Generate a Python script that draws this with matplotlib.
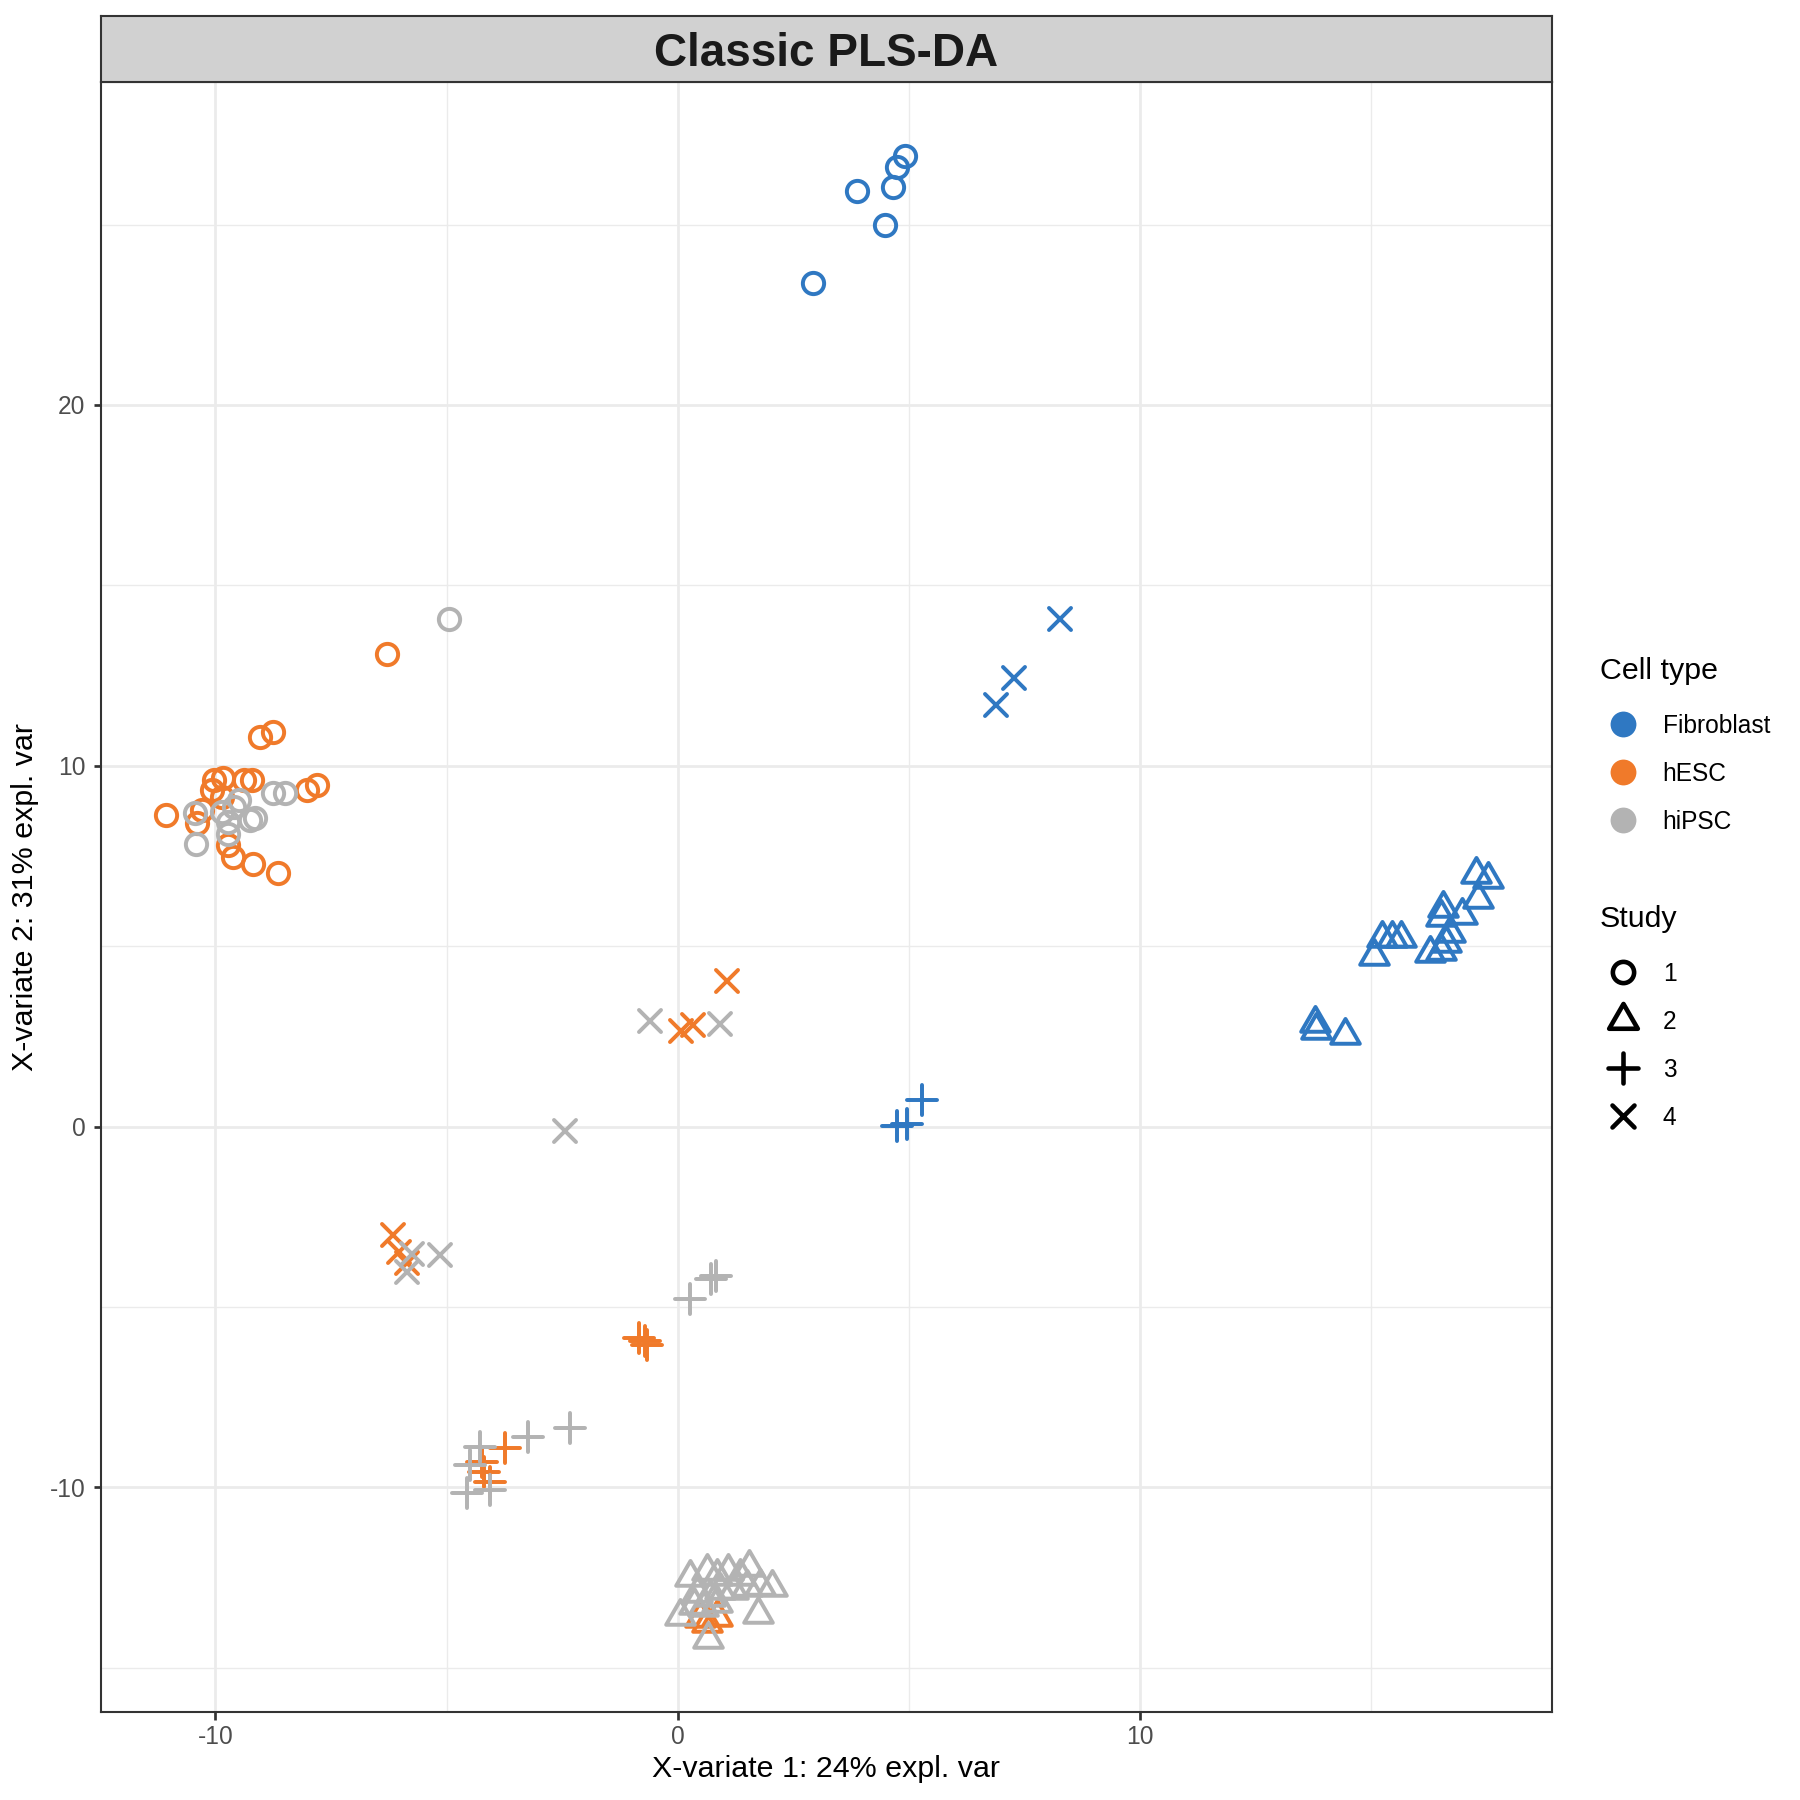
import matplotlib
matplotlib.use("Agg")
import matplotlib.pyplot as plt
from matplotlib.lines import Line2D
from matplotlib.path import Path
from matplotlib.markers import MarkerStyle

plt.rcParams['font.family'] = ['Liberation Sans', 'DejaVu Sans']

# ---------------- data ----------------
cell_types = ["Fibroblast", "hESC", "hiPSC"]
studies = ["1", "2", "3", "4"]
cell_colors = ["#2F78C2", "#F07A2A", "#B3B3B3"]

# Fibroblast
fib_s1_x = [2.93, 3.88, 4.65, 4.75, 4.92, 4.47]
fib_s1_y = [23.38, 25.92, 26.05, 26.59, 26.91, 25.00]
fib_s2_x = [17.26, 17.51, 17.31, 16.55, 16.96, 16.51, 16.70, 15.22, 15.45,
            15.63, 15.05, 16.26, 16.51, 16.62, 13.77, 13.81, 14.42]
fib_s2_y = [6.99, 6.87, 6.32, 6.07, 5.86, 5.81, 5.35, 5.23, 5.23,
            5.23, 4.74, 4.80, 4.86, 5.10, 2.86, 2.67, 2.55]
fib_s3_x = [4.75, 4.95, 5.27]
fib_s3_y = [0.02, 0.08, 0.73]
fib_s4_x = [6.88, 7.28, 8.27]
fib_s4_y = [11.69, 12.42, 14.08]

# hESC
hesc_s1_x = [-6.29, -9.03, -8.75, -10.04, -9.83, -10.08, -9.39, -9.21, -8.02,
             -7.80, -11.07, -10.40, -9.72, -9.61, -9.18, -8.64, -9.86, -10.29]
hesc_s1_y = [13.09, 10.79, 10.94, 9.60, 9.65, 9.32, 9.60, 9.60, 9.32,
             9.46, 8.63, 8.40, 7.80, 7.48, 7.29, 7.02, 9.14, 8.77]
hesc_s2_x = [0.48, 0.84, 0.63]
hesc_s2_y = [-13.63, -13.59, -13.77]
hesc_s3_x = [-3.73, -4.24, -4.20, -4.06, -0.85, -0.72, -0.66]
hesc_s3_y = [-8.92, -9.29, -9.57, -9.84, -5.85, -5.95, -6.05]
hesc_s4_x = [-6.15, -6.04, -5.86, 1.07, 0.07, 0.32]
hesc_s4_y = [-3.01, -3.47, -3.79, 4.04, 2.64, 2.80]

# hiPSC
hipsc_s1_x = [-4.94, -10.44, -10.42, -9.86, -9.50, -8.75, -8.49, -9.14, -9.25,
              -9.72, -9.60, -9.72]
hipsc_s1_y = [14.08, 8.68, 7.83, 8.73, 9.05, 9.24, 9.24, 8.54, 8.49,
              8.12, 8.85, 8.44]
hipsc_s2_x = [0.27, 0.63, 0.85, 1.09, 1.35, 1.53, 1.78, 2.03, 1.74, 0.05,
              0.66, 0.41, 0.70, 0.92, 0.55, 0.84, 0.34, 1.20, 1.49]
hipsc_s2_y = [-12.50, -12.31, -12.45, -12.31, -12.45, -12.22, -12.73, -12.77,
              -13.51, -13.56, -14.21, -12.94, -13.03, -12.84, -13.31, -13.21,
              -13.26, -12.84, -12.75]
hipsc_s3_x = [-4.28, -3.23, -2.33, -4.49, -4.56, -4.06, 0.27, 0.72, 0.82]
hipsc_s3_y = [-8.87, -8.60, -8.37, -9.38, -10.17, -10.08, -4.78, -4.24, -4.14]
hipsc_s4_x = [-5.75, -5.86, -5.14, -0.60, 0.92, -2.43]
hipsc_s4_y = [-3.52, -4.02, -3.56, 2.93, 2.83, -0.13]

title = "Classic PLS-DA"
x_label = "X-variate 1: 24% expl. var"
y_label = "X-variate 2: 31% expl. var"
x_major = [-10, 0, 10]
y_major = [-10, 0, 10, 20]
x_minor = [-5, 5, 15]
y_minor = [-15, -5, 5, 15, 25]

groups = [
    [(fib_s1_x, fib_s1_y), (fib_s2_x, fib_s2_y), (fib_s3_x, fib_s3_y), (fib_s4_x, fib_s4_y)],
    [(hesc_s1_x, hesc_s1_y), (hesc_s2_x, hesc_s2_y), (hesc_s3_x, hesc_s3_y), (hesc_s4_x, hesc_s4_y)],
    [(hipsc_s1_x, hipsc_s1_y), (hipsc_s2_x, hipsc_s2_y), (hipsc_s3_x, hipsc_s3_y), (hipsc_s4_x, hipsc_s4_y)],
]

# ---------------- markers (R pch 1,2,3,4 geometry) ----------------
CIRC = 5.1  # pt, circle diameter
tri_path = Path([(0, 1), (-0.866, -0.5), (0.866, -0.5), (0, 1)],
                [Path.MOVETO, Path.LINETO, Path.LINETO, Path.CLOSEPOLY])
marker_defs = [
    (MarkerStyle('o', joinstyle='round', capstyle='round'), CIRC),
    (MarkerStyle(tri_path, joinstyle='round', capstyle='round'), CIRC * 1.555),
    (MarkerStyle('+', joinstyle='round', capstyle='round'), CIRC * 1.414),
    (MarkerStyle('x', joinstyle='round', capstyle='round'), CIRC),
]

# ---------------- figure ----------------
W = H = 1800.0
fig = plt.figure(figsize=(6, 6), dpi=300)
pl, pr, pt_, pb = 100.7, 1552.3, 81.7, 1711.7
ax = fig.add_axes([pl / W, 1 - pb / H, (pr - pl) / W, (pb - pt_) / H])

ax.set_xlim(-12.48, 18.91)
ax.set_ylim(-16.22, 28.96)

for xv in x_minor:
    ax.axvline(xv, color="#EBEBEB", lw=0.33, zorder=0)
for yv in y_minor:
    ax.axhline(yv, color="#EBEBEB", lw=0.33, zorder=0)
for xv in x_major:
    ax.axvline(xv, color="#EBEBEB", lw=0.65, zorder=0)
for yv in y_major:
    ax.axhline(yv, color="#EBEBEB", lw=0.65, zorder=0)

for ci, color in enumerate(cell_colors):
    for si in range(4):
        xs, ys = groups[ci][si]
        mk, ms = marker_defs[si]
        ax.plot(xs, ys, linestyle='none', marker=mk, markersize=ms,
                markerfacecolor='none', markeredgecolor=color,
                markeredgewidth=0.95, zorder=3)

ax.set_xticks(x_major)
ax.set_yticks(y_major)
ax.set_xticklabels([str(v) for v in x_major])
ax.set_yticklabels([str(v) for v in y_major])
ax.tick_params(axis='both', length=1.8, width=0.65, color="#333333",
               labelsize=5.9, labelcolor="#4D4D4D")
ax.tick_params(axis='x', pad=1.3)
ax.tick_params(axis='y', pad=1.9)
for sp in ax.spines.values():
    sp.set_color("#333333")
    sp.set_linewidth(0.5)

ax.set_xlabel(x_label, fontsize=7.3, color="black")
ax.xaxis.label.set_va('baseline')
ax.xaxis.set_label_coords(0.5, -(1776.7 - pb) / (pb - pt_))
ax.set_ylabel(y_label, fontsize=7.3, color="black")
ax.yaxis.label.set_va('center')
ax.yaxis.set_label_coords(-(pl - 25) / (pr - pl), 0.5)

# strip
st_top = 15.7
sax = fig.add_axes([pl / W, 1 - pt_ / H, (pr - pl) / W, (pt_ - st_top) / H])
sax.set_facecolor("#D1D1D1")
sax.set_xticks([])
sax.set_yticks([])
for sp in sax.spines.values():
    sp.set_color("#333333")
    sp.set_linewidth(0.5)
sax.text(0.5, 0.42, title, ha='center', va='center', fontsize=11.0,
         fontweight='bold', color="#1A1A1A", transform=sax.transAxes)

# legends
cell_handles = [Line2D([], [], linestyle='none', marker='o', markersize=6.2,
                       markerfacecolor=c, markeredgecolor=c, markeredgewidth=0)
                for c in cell_colors]
study_handles = [Line2D([], [], linestyle='none', marker=mk, markersize=ms,
                        markerfacecolor='none', markeredgecolor='black',
                        markeredgewidth=1.1)
                 for mk, ms in marker_defs]

leg_kw = dict(frameon=False, borderpad=0, borderaxespad=0, handlelength=1.85,
              handletextpad=0.70, labelspacing=0.98, alignment='left',
              fontsize=5.9, title_fontsize=7.3, loc='upper left')
leg1 = fig.legend(cell_handles, cell_types, title="Cell type",
                  bbox_to_anchor=(1600 / W, 1 - 657 / H), **leg_kw)
leg2 = fig.legend(study_handles, studies, title="Study",
                  bbox_to_anchor=(1600 / W, 1 - 905 / H), **leg_kw)
for lg in (leg1, leg2):
    lg._legend_box.sep = 0.98 * 5.9 + 1.1

fig.savefig("out.png", dpi=300, facecolor="white")
